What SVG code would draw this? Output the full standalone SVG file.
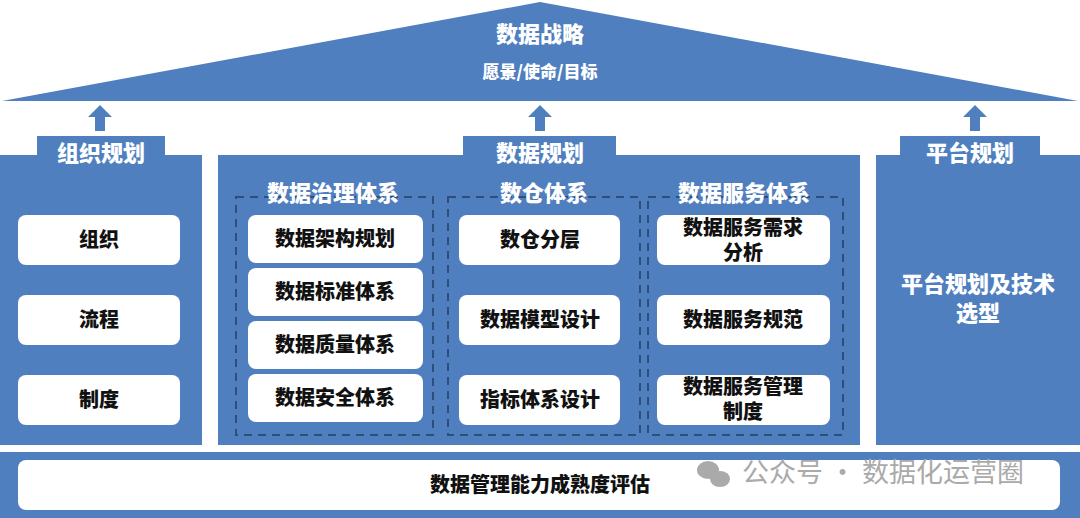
<svg xmlns="http://www.w3.org/2000/svg" width="1080" height="518" viewBox="0 0 1080 518">
<style>
.b{fill:#4f7fbf}
.w{fill:#fff}
.t{font-family:"Noto Sans CJK SC",sans-serif;font-weight:900;text-anchor:middle}
.wt{fill:#fff;font-size:22px}
.bt{fill:#111;font-size:20px}
.dash{fill:none;stroke:#2f4f7a;stroke-width:2;stroke-dasharray:8,6}
</style>
<defs>
<path id="arr" d="M0,-13 L12,-1 L5,-1 L5,13 L-5,13 L-5,-1 L-12,-1 Z" fill="#4f7fbf"/>
</defs>
<rect width="1080" height="518" fill="#fff"/>
<g id="roof">
<polygon class="b" points="540,2 1078,101 2,101"/>
<text class="t wt" x="540" y="42">数据战略</text>
<text class="t" x="540" y="78" fill="#fff" font-size="17">愿景/使命/目标</text>
</g>
<g id="connectors">
<use href="#arr" x="100" y="118"/>
<use href="#arr" x="540" y="118"/>
<use href="#arr" x="975" y="118"/>
</g>
<g id="org">
<rect class="b" x="37" y="136" width="128" height="30"/>
<rect class="b" x="0" y="155" width="202" height="290"/>
<text class="t wt" x="101" y="161">组织规划</text>
<rect class="w" x="18" y="215" width="162" height="50" rx="8"/><text class="t bt" x="99" y="247">组织</text>
<rect class="w" x="18" y="295" width="162" height="50" rx="8"/><text class="t bt" x="99" y="327">流程</text>
<rect class="w" x="18" y="375" width="162" height="50" rx="8"/><text class="t bt" x="99" y="407">制度</text>
</g>
<g id="data">
<rect class="b" x="463" y="136" width="153" height="30"/>
<rect class="b" x="218" y="155" width="642" height="290"/>
<text class="t wt" x="540" y="161">数据规划</text>
<rect class="dash" x="236" y="197" width="197" height="238"/>
<rect class="dash" x="448" y="197" width="192" height="238"/>
<rect class="dash" x="648" y="197" width="195" height="238"/>
<text class="t wt" x="333" y="201">数据治理体系</text>
<text class="t wt" x="544" y="201">数仓体系</text>
<text class="t wt" x="744" y="201">数据服务体系</text>
<rect class="w" x="248" y="215" width="175" height="48" rx="8"/><text class="t bt" x="335" y="246">数据架构规划</text>
<rect class="w" x="248" y="268" width="175" height="48" rx="8"/><text class="t bt" x="335" y="299">数据标准体系</text>
<rect class="w" x="248" y="321" width="175" height="48" rx="8"/><text class="t bt" x="335" y="352">数据质量体系</text>
<rect class="w" x="248" y="374" width="175" height="48" rx="8"/><text class="t bt" x="335" y="405">数据安全体系</text>
<rect class="w" x="459" y="215" width="161" height="50" rx="8"/><text class="t bt" x="540" y="247">数仓分层</text>
<rect class="w" x="459" y="295" width="161" height="50" rx="8"/><text class="t bt" x="540" y="327">数据模型设计</text>
<rect class="w" x="459" y="375" width="161" height="50" rx="8"/><text class="t bt" x="540" y="407">指标体系设计</text>
<rect class="w" x="657" y="215" width="173" height="50" rx="8"/><text class="t bt" x="743" y="235">数据服务需求</text><text class="t bt" x="743" y="260">分析</text>
<rect class="w" x="657" y="295" width="173" height="50" rx="8"/><text class="t bt" x="743" y="327">数据服务规范</text>
<rect class="w" x="657" y="375" width="173" height="50" rx="8"/><text class="t bt" x="743" y="394">数据服务管理</text><text class="t bt" x="743" y="419">制度</text>
</g>
<g id="platform">
<rect class="b" x="900" y="136" width="140" height="30"/>
<rect class="b" x="876" y="155" width="204" height="290"/>
<text class="t wt" x="970" y="161">平台规划</text>
<text class="t wt" x="978" y="292">平台规划及技术</text>
<text class="t wt" x="978" y="321">选型</text>
</g>
<g id="eval">
<rect class="b" x="0" y="452" width="1080" height="66"/>
<rect class="w" x="18" y="460" width="1042" height="50" rx="8"/>
<text class="t bt" x="540" y="492">数据管理能力成熟度评估</text>
<g fill="#aaa">
<ellipse cx="708" cy="470" rx="11" ry="9"/>
<ellipse cx="720" cy="479" rx="10" ry="8"/>
</g>
<text x="742" y="482" fill="#aaa" font-size="27" font-family="Noto Sans CJK SC,sans-serif">公众号 · 数据化运营圈</text>
</g>
</svg>
